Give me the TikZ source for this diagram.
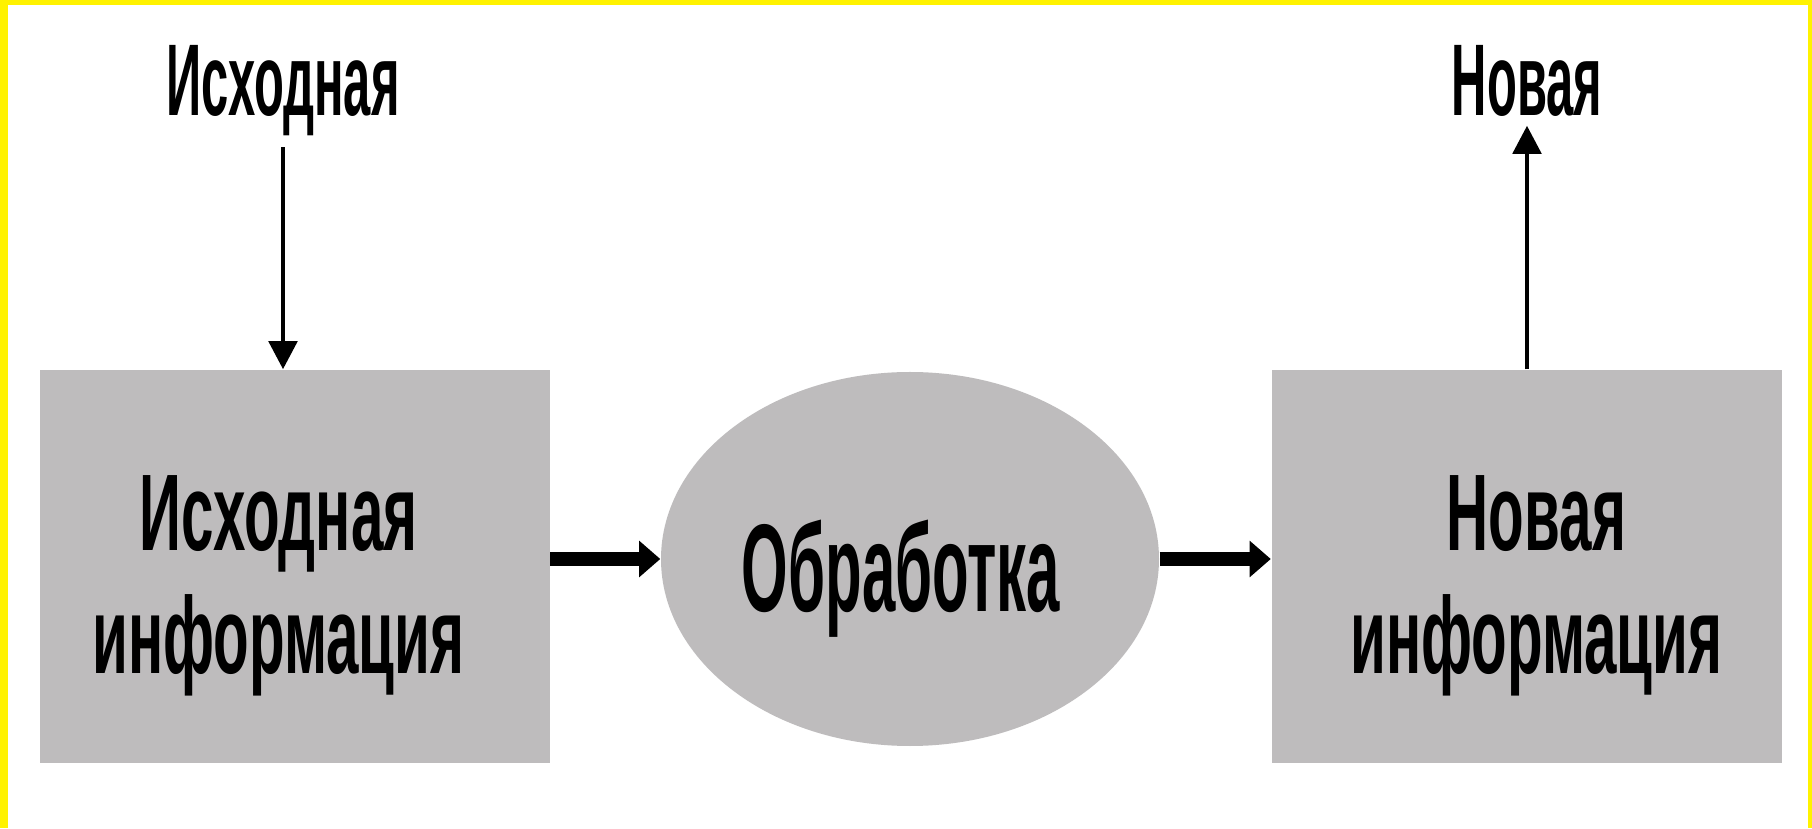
\documentclass[tikz,border=0pt]{standalone}
\usepackage{fontspec}
\setmainfont{Liberation Sans}
\newfontfamily\boxfont{Liberation Sans}[FakeStretch=0.535]
\newfontfamily\procfont{Liberation Sans}[FakeStretch=0.48]
\newfontfamily\lblfont{Liberation Sans}[FakeStretch=0.48]
\usetikzlibrary{arrows.meta,shapes.geometric}
\definecolor{boxgray}{RGB}{190,188,189}
\tikzset{
  infobox/.style={fill=boxgray, draw=none, minimum width=5.1cm, minimum height=3.93cm, inner sep=0pt},
  boxtext/.style={align=center, inner sep=0pt, font=\fontsize{31}{35}\boxfont\bfseries},
  procell/.style={ellipse, fill=boxgray, draw=none, minimum width=4.98cm, minimum height=3.74cm, inner sep=0pt},
  proctext/.style={inner sep=0pt, font=\fontsize{35.5}{40}\procfont\bfseries},
  toplbl/.style={inner sep=0pt, font=\fontsize{29}{33}\lblfont\bfseries},
  thinarrow/.style={line width=1.4pt, -{Triangle[length=8pt,width=8pt]}},
  thickarrow/.style={line width=3.8pt, -{Triangle[length=6pt,width=10pt]}}
}
\begin{document}
\begin{tikzpicture}
\useasboundingbox (0,0) rectangle (18.12,8.28);
\fill[yellow] (0,0) rectangle (18.12,8.28);
\fill[white] (0.08,0) rectangle (18.08,8.23);
\node[infobox, label={[boxtext, xshift=-0.16cm, yshift=-0.19cm]center:Исходная\\информация}] (src) at (2.945,2.615) {};
\node[procell, label={[proctext, xshift=-0.09cm, yshift=-0.2cm]center:Обработка}] (proc) at (9.10,2.69) {};
\node[infobox, label={[boxtext, xshift=0.10cm, yshift=-0.19cm]center:Новая\\информация}] (dst) at (15.265,2.615) {};
\node[toplbl, anchor=base] (srclbl) at (2.83,7.12) {Исходная};
\node[toplbl, anchor=base] (dstlbl) at (15.27,7.12) {Новая};
\draw[thinarrow] ([yshift=-0.1cm]srclbl.south) -- (srclbl.south |- src.north);
\draw[thinarrow] (dstlbl.south |- dst.north) -- ([yshift=-0.08cm]dstlbl.south);
\draw[thickarrow] (src.east |- proc.center) -- (proc.west);
\draw[thickarrow] (proc.east) -- (dst.west |- proc.center);
\end{tikzpicture}
\end{document}
